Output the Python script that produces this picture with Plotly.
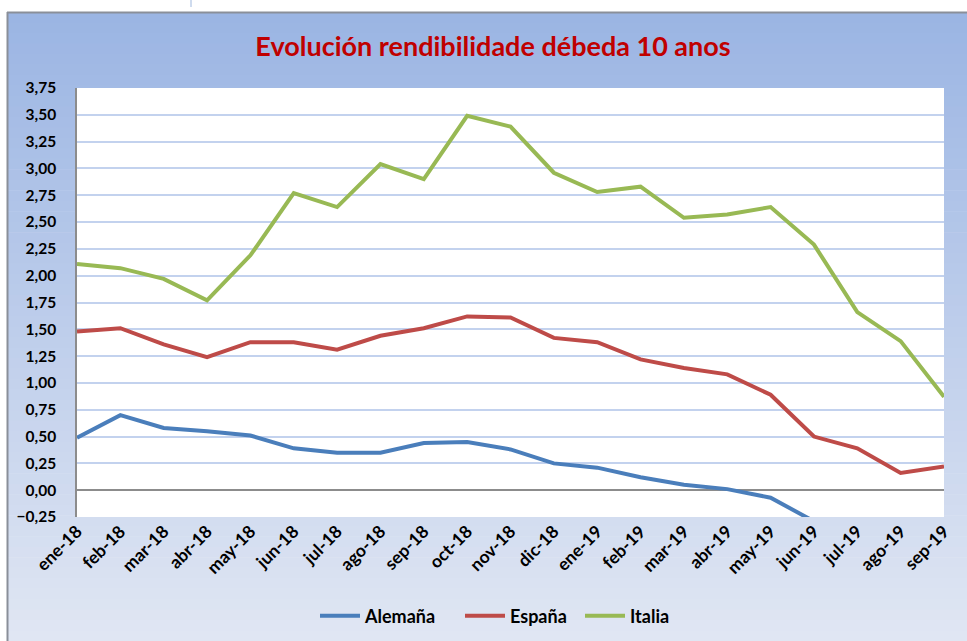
import plotly.graph_objects as go

months = ["ene-18", "feb-18", "mar-18", "abr-18", "may-18", "jun-18", "jul-18",
          "ago-18", "sep-18", "oct-18", "nov-18", "dic-18", "ene-19", "feb-19",
          "mar-19", "abr-19", "may-19", "jun-19", "jul-19", "ago-19", "sep-19"]

alemana = [0.49, 0.70, 0.58, 0.55, 0.51, 0.39, 0.35, 0.35, 0.44, 0.45, 0.38,
           0.25, 0.21, 0.12, 0.05, 0.01, -0.07, -0.29, -0.40, -0.65, -0.55]
espana = [1.48, 1.51, 1.36, 1.24, 1.38, 1.38, 1.31, 1.44, 1.51, 1.62, 1.61,
          1.42, 1.38, 1.22, 1.14, 1.08, 0.89, 0.50, 0.39, 0.16, 0.22]
italia = [2.11, 2.07, 1.97, 1.77, 2.19, 2.77, 2.64, 3.04, 2.90, 3.49, 3.39,
          2.96, 2.78, 2.83, 2.54, 2.57, 2.64, 2.29, 1.66, 1.39, 0.87]

series = [("Alemaña", alemana, "#4a7ebb", "legend", 315),
          ("España", espana, "#be4b48", "legend2", 460),
          ("Italia", italia, "#98b954", "legend3", 580)]

W, H = 967, 641
L, R, T, B = 77, 23, 88, 124
PW, PH = W - L - R, H - T - B

def px(x):
    return (x - L) / PW

def py(y):
    return (H - B - y) / PH

fig = go.Figure()
for name, vals, col, lg, _ in series:
    fig.add_trace(go.Scatter(x=months, y=vals, name=name, mode="lines",
                             legend=lg, line=dict(color=col, width=4)))

# gradient background bands
shapes = []
top_c = (155, 181, 227)
bot_c = (224, 230, 243)
y0, y1 = 12, H
n = 60
for i in range(n):
    a = y0 + (y1 - y0) * i / n
    b = y0 + (y1 - y0) * (i + 1) / n
    t = i / (n - 1)
    c = tuple(round(top_c[k] + (bot_c[k] - top_c[k]) * t) for k in range(3))
    shapes.append(dict(type="rect", xref="paper", yref="paper", layer="below",
                       x0=px(7), x1=px(W + 2), y0=py(a), y1=py(b + 0.6),
                       fillcolor="rgb(%d,%d,%d)" % c, line=dict(width=0)))
# white plot area
shapes.append(dict(type="rect", xref="paper", yref="paper", layer="below",
                   x0=0, x1=1, y0=0, y1=1, fillcolor="white", line=dict(width=0)))
# frame lines
shapes.append(dict(type="line", xref="paper", yref="paper", x0=px(7.5), x1=px(7.5),
                   y0=py(12), y1=py(H + 2), line=dict(color="#8a8f99", width=2)))
shapes.append(dict(type="line", xref="paper", yref="paper", x0=px(7), x1=px(W + 2),
                   y0=py(12.5), y1=py(12.5), line=dict(color="#8a8f99", width=2)))
shapes.append(dict(type="line", xref="paper", yref="paper", x0=px(191), x1=px(191),
                   y0=py(0), y1=py(7), line=dict(color="#9fb8de", width=1)))

legends = {}
for name, vals, col, lg, lx in series:
    legends[lg] = dict(orientation="h", xref="container", x=lx / W, xanchor="left",
                       yref="container", y=1 - 616 / H, yanchor="middle",
                       bgcolor="rgba(0,0,0,0)", borderwidth=0,
                       font=dict(size=18, weight="bold"), itemwidth=40)

fig.update_layout(
    width=W, height=H,
    margin=dict(l=L, r=R, t=T, b=B, pad=0, autoexpand=False),
    paper_bgcolor="white",
    plot_bgcolor="rgba(0,0,0,0)",
    separators=",.",
    shapes=shapes,
    font=dict(family="Lato, Carlito, 'Open Sans', sans-serif", color="black"),
    title=dict(text="Evolución rendibilidade débeda 10 anos",
               xref="container", x=493 / W, xanchor="center",
               yref="container", y=1 - 47 / H, yanchor="middle",
               font=dict(size=27, color="#c00000", weight="bold")),
    xaxis=dict(type="category", range=[0, len(months) - 1], showgrid=False,
               tickangle=-45, tickfont=dict(size=17.5, weight="bold"),
               ticks="", showline=False, zeroline=False, automargin=False),
    yaxis=dict(range=[-0.25, 3.75], dtick=0.25, tick0=0, tickformat=".2f",
               tickfont=dict(size=15.5, weight="bold"), showgrid=True,
               gridcolor="#c3d2ee", gridwidth=1.5, zeroline=True,
               zerolinecolor="#8c8c8c", zerolinewidth=1.5,
               showline=True, linecolor="#8c8c8c", linewidth=1.5,
               ticks="", ticklen=0, ticklabelstandoff=16, automargin=False),
    showlegend=True,
    **legends,
)

fig.write_html("out.html", config={"displayModeBar": False},
               post_script="document.body.style.margin='0';document.body.style.overflow='hidden';")
